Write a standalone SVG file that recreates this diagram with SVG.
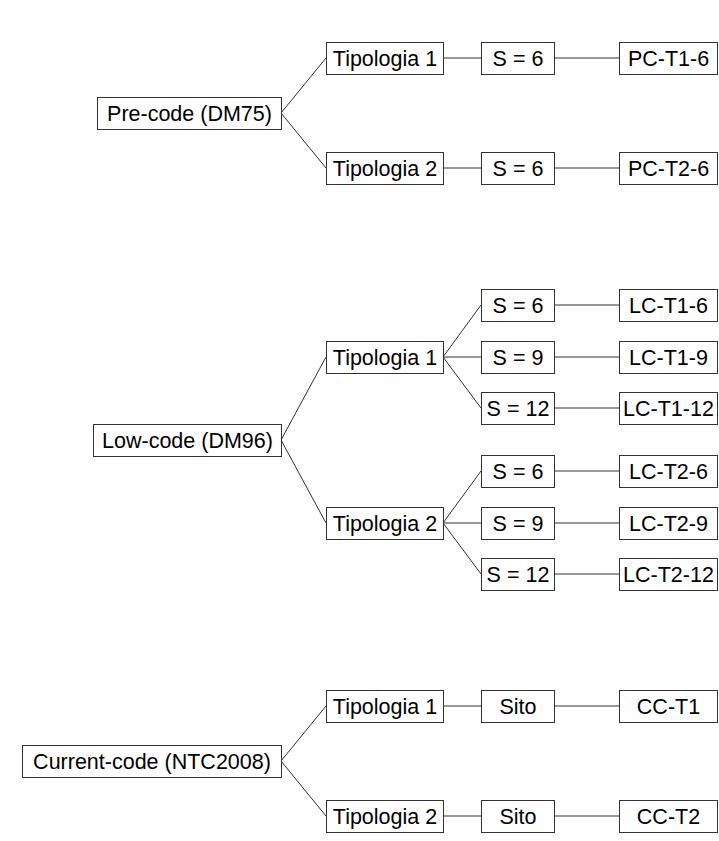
<svg xmlns="http://www.w3.org/2000/svg" width="719" height="841" viewBox="0 0 719 841">
<style>
rect{fill:#fff;stroke:#333;stroke-width:1}
text{font-family:"Liberation Sans",Arial,sans-serif;font-size:21.5px;fill:#000;text-anchor:middle}
#connectors line{stroke:#333;stroke-width:1}
</style>
<rect x="0" y="0" width="719" height="841" style="stroke:none"/>
<g id="connectors">
<line x1="281" y1="113" x2="326" y2="58"/>
<line x1="281" y1="113" x2="326" y2="168"/>
<line x1="443" y1="58" x2="481" y2="58"/>
<line x1="554" y1="58" x2="619" y2="58"/>
<line x1="443" y1="168" x2="481" y2="168"/>
<line x1="554" y1="168" x2="619" y2="168"/>
<line x1="281" y1="440" x2="326" y2="357"/>
<line x1="281" y1="440" x2="326" y2="523"/>
<line x1="443" y1="357" x2="481" y2="305"/>
<line x1="443" y1="357" x2="481" y2="357"/>
<line x1="443" y1="357" x2="481" y2="408"/>
<line x1="443" y1="523" x2="481" y2="471"/>
<line x1="443" y1="523" x2="481" y2="523"/>
<line x1="443" y1="523" x2="481" y2="574"/>
<line x1="554" y1="305" x2="619" y2="305"/>
<line x1="554" y1="357" x2="619" y2="357"/>
<line x1="554" y1="408" x2="619" y2="408"/>
<line x1="554" y1="471" x2="619" y2="471"/>
<line x1="554" y1="523" x2="619" y2="523"/>
<line x1="554" y1="574" x2="619" y2="574"/>
<line x1="281" y1="761" x2="326" y2="706"/>
<line x1="281" y1="761" x2="326" y2="816"/>
<line x1="443" y1="706" x2="481" y2="706"/>
<line x1="554" y1="706" x2="619" y2="706"/>
<line x1="443" y1="816" x2="481" y2="816"/>
<line x1="554" y1="816" x2="619" y2="816"/>
</g>
<g id="precode"><rect x="97.5" y="97.5" width="184" height="32"/><text x="189.5" y="121">Pre-code (DM75)</text></g>
<g id="pc-t1"><rect x="326.5" y="42.5" width="117" height="32"/><text x="385" y="66">Tipologia 1</text></g>
<g id="pc-t2"><rect x="326.5" y="152.5" width="117" height="32"/><text x="385" y="176">Tipologia 2</text></g>
<g id="pc-t1-s6"><rect x="481.5" y="42.5" width="73" height="32"/><text x="518" y="66">S = 6</text></g>
<g id="pc-t2-s6"><rect x="481.5" y="152.5" width="73" height="32"/><text x="518" y="176">S = 6</text></g>
<g id="PC-T1-6"><rect x="619.5" y="42.5" width="98" height="32"/><text x="668.5" y="66">PC-T1-6</text></g>
<g id="PC-T2-6"><rect x="619.5" y="152.5" width="98" height="32"/><text x="668.5" y="176">PC-T2-6</text></g>

<g id="lowcode"><rect x="93.5" y="424.5" width="188" height="32"/><text x="187.5" y="448">Low-code (DM96)</text></g>
<g id="lc-t1"><rect x="326.5" y="341.5" width="117" height="32"/><text x="385" y="365">Tipologia 1</text></g>
<g id="lc-t2"><rect x="326.5" y="507.5" width="117" height="32"/><text x="385" y="531">Tipologia 2</text></g>
<g id="lc-t1-s6"><rect x="481.5" y="289.5" width="73" height="32"/><text x="518" y="313">S = 6</text></g>
<g id="lc-t1-s9"><rect x="481.5" y="341.5" width="73" height="32"/><text x="518" y="365">S = 9</text></g>
<g id="lc-t1-s12"><rect x="481.5" y="392.5" width="73" height="32"/><text x="518" y="416">S = 12</text></g>
<g id="lc-t2-s6"><rect x="481.5" y="455.5" width="73" height="32"/><text x="518" y="479">S = 6</text></g>
<g id="lc-t2-s9"><rect x="481.5" y="507.5" width="73" height="32"/><text x="518" y="531">S = 9</text></g>
<g id="lc-t2-s12"><rect x="481.5" y="558.5" width="73" height="32"/><text x="518" y="582">S = 12</text></g>
<g id="LC-T1-6"><rect x="619.5" y="289.5" width="98" height="32"/><text x="668.5" y="313">LC-T1-6</text></g>
<g id="LC-T1-9"><rect x="619.5" y="341.5" width="98" height="32"/><text x="668.5" y="365">LC-T1-9</text></g>
<g id="LC-T1-12"><rect x="619.5" y="392.5" width="98" height="32"/><text x="668.5" y="416">LC-T1-12</text></g>
<g id="LC-T2-6"><rect x="619.5" y="455.5" width="98" height="32"/><text x="668.5" y="479">LC-T2-6</text></g>
<g id="LC-T2-9"><rect x="619.5" y="507.5" width="98" height="32"/><text x="668.5" y="531">LC-T2-9</text></g>
<g id="LC-T2-12"><rect x="619.5" y="558.5" width="98" height="32"/><text x="668.5" y="582">LC-T2-12</text></g>

<g id="currentcode"><rect x="22.5" y="745.5" width="259" height="32"/><text x="152" y="769">Current-code (NTC2008)</text></g>
<g id="cc-t1"><rect x="326.5" y="690.5" width="117" height="32"/><text x="385" y="714">Tipologia 1</text></g>
<g id="cc-t2"><rect x="326.5" y="800.5" width="117" height="32"/><text x="385" y="824">Tipologia 2</text></g>
<g id="cc-t1-sito"><rect x="481.5" y="690.5" width="73" height="32"/><text x="518" y="714">Sito</text></g>
<g id="cc-t2-sito"><rect x="481.5" y="800.5" width="73" height="32"/><text x="518" y="824">Sito</text></g>
<g id="CC-T1"><rect x="619.5" y="690.5" width="98" height="32"/><text x="668.5" y="714">CC-T1</text></g>
<g id="CC-T2"><rect x="619.5" y="800.5" width="98" height="32"/><text x="668.5" y="824">CC-T2</text></g>
</svg>
